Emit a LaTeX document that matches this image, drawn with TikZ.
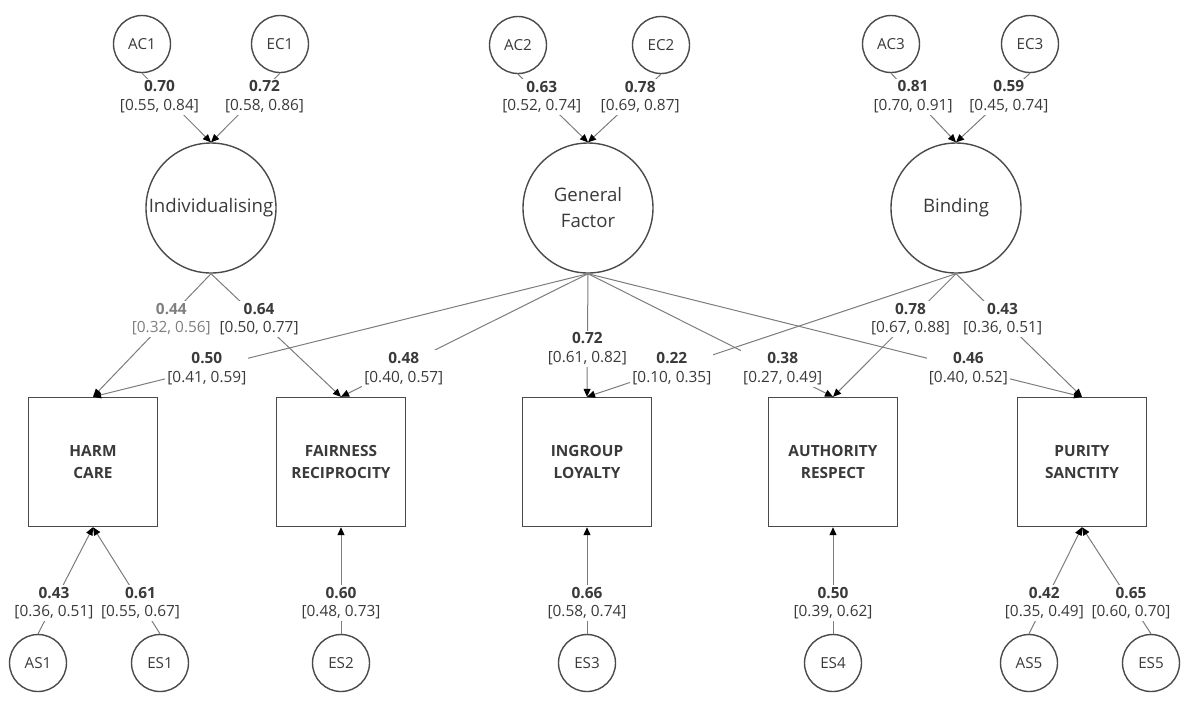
\documentclass[tikz,border=0pt]{standalone}
\usepackage{fontspec}
\setmainfont{Open Sans}
\usetikzlibrary{arrows.meta}
\definecolor{txt}{HTML}{3A3A3A}
\definecolor{ln}{HTML}{7C7C7C}
\definecolor{rim}{HTML}{4A4A4A}
\newcommand{\est}[2]{\textbf{#1}\\{}[#2]}

\begin{document}
\begin{tikzpicture}[x=0.5pt,y=-0.5pt,
    small/.style={circle,draw=rim,line width=0.7pt,minimum size=28.5pt,inner sep=0pt,font=\fontsize{7.6}{9}\selectfont,text=txt},
    big/.style={circle,draw=rim,line width=0.7pt,minimum size=65pt,inner sep=0pt,align=center,font=\fontsize{9.3}{13}\selectfont,text=txt},
    box/.style={rectangle,draw=rim,line width=0.7pt,minimum width=64.5pt,minimum height=64.5pt,align=center,font=\bfseries\fontsize{7.7}{11}\selectfont,text=txt},
    est/.style={fill=white,inner sep=1pt,align=center,font=\fontsize{7.7}{9.2}\selectfont,text=txt},
    path/.style={draw=ln,line width=0.5pt,-{Triangle[length=4pt,width=3.5pt,color=black]}}]
      \useasboundingbox (0,0) rectangle (1200,720);
      \node[small] (AC1) at (142,44) {AC1};
      \node[small] (EC1) at (280,44) {EC1};
      \node[small] (AC2) at (518,45) {AC2};
      \node[small] (EC2) at (661,45) {EC2};
      \node[small] (AC3) at (891,44) {AC3};
      \node[small] (EC3) at (1030,44) {EC3};
      \node[big] (Indiv) at (211,208) {Individualising};
      \node[big] (GF) at (588,208) {General\\Factor};
      \node[big] (Bind) at (956,208) {Binding};
      \node[box] (HC) at (93,462) {HARM\\CARE};
      \node[box] (FR) at (341,462) {FAIRNESS\\RECIPROCITY};
      \node[box] (IL) at (587,462) {INGROUP\\LOYALTY};
      \node[box] (AR) at (833,462) {AUTHORITY\\RESPECT};
      \node[box] (PS) at (1082,462) {PURITY\\SANCTITY};
      \node[small] (AS1) at (38,663) {AS1};
      \node[small] (ES1) at (160,663) {ES1};
      \node[small] (ES2) at (341,663) {ES2};
      \node[small] (ES3) at (587,663) {ES3};
      \node[small] (ES4) at (833,663) {ES4};
      \node[small] (AS5) at (1029,663) {AS5};
      \node[small] (ES5) at (1151,663) {ES5};
        % Comments
      \draw[path] (AC1.south) -- node[est,pos=0.34,xshift=-3pt] {\est{0.70}{0.55, 0.84}} (Indiv.north);
      \draw[path] (EC1.south) -- node[est,pos=0.34,xshift=4pt] {\est{0.72}{0.58, 0.86}} (Indiv.north);
      \draw[path] (AC2.south) -- node[est,pos=0.34] {\est{0.63}{0.52, 0.74}} (GF.north);
      \draw[path] (EC2.south) -- node[est,pos=0.34,xshift=2pt] {\est{0.78}{0.69, 0.87}} (GF.north);
      \draw[path] (AC3.south) -- node[est,pos=0.34] {\est{0.81}{0.70, 0.91}} (Bind.north);
      \draw[path] (EC3.south) -- node[est,pos=0.34,xshift=2pt] {\est{0.59}{0.45, 0.74}} (Bind.north);
      \draw[path] (Bind.south) -- node[est,pos=0.37] {\est{0.78}{0.67, 0.88}} (AR.north);
      \draw[path] (Bind.south) -- node[est,pos=0.37] {\est{0.43}{0.36, 0.51}} (PS.north);
      \draw[path] (GF.south) -- node[est,pos=0.77] {\est{0.50}{0.41, 0.59}} (HC.north);
      \draw[path] (GF.south) -- node[est,pos=0.77,xshift=3pt] {\est{0.48}{0.40, 0.57}} (FR.north);
      \draw[path] (GF.south) -- node[est,pos=0.61] {\est{0.72}{0.61, 0.82}} (IL.north);
      \draw[path] (GF.south) -- node[est,pos=0.77,xshift=3pt] {\est{0.38}{0.27, 0.49}} (AR.north);
      \draw[path] (GF.south) -- node[est,pos=0.77] {\est{0.46}{0.40, 0.52}} (PS.north);
      \draw[path] (Bind.south) -- node[est,pos=0.77] {\est{0.22}{0.10, 0.35}} (IL.north);
      \draw[path] (Indiv.south) -- node[est,pos=0.37,xshift=2pt,text=gray] {\est{0.44}{0.32, 0.56}} (HC.north);
      \draw[path] (Indiv.south) -- node[est,pos=0.37] {\est{0.64}{0.50, 0.77}} (FR.north);
      \draw[path] (AS1.north) -- node[est,pos=0.29] {\est{0.43}{0.36, 0.51}} (HC.south);
      \draw[path] (ES1.north) -- node[est,pos=0.29] {\est{0.61}{0.55, 0.67}} (HC.south);
      \draw[path] (ES2.north) -- node[est,pos=0.29] {\est{0.60}{0.48, 0.73}} (FR.south);
      \draw[path] (ES3.north) -- node[est,pos=0.29] {\est{0.66}{0.58, 0.74}} (IL.south);
      \draw[path] (ES4.north) -- node[est,pos=0.29] {\est{0.50}{0.39, 0.62}} (AR.south);
      \draw[path] (AS5.north) -- node[est,pos=0.29] {\est{0.42}{0.35, 0.49}} (PS.south);
      \draw[path] (ES5.north) -- node[est,pos=0.29] {\est{0.65}{0.60, 0.70}} (PS.south);
\end{tikzpicture}
\end{document}
